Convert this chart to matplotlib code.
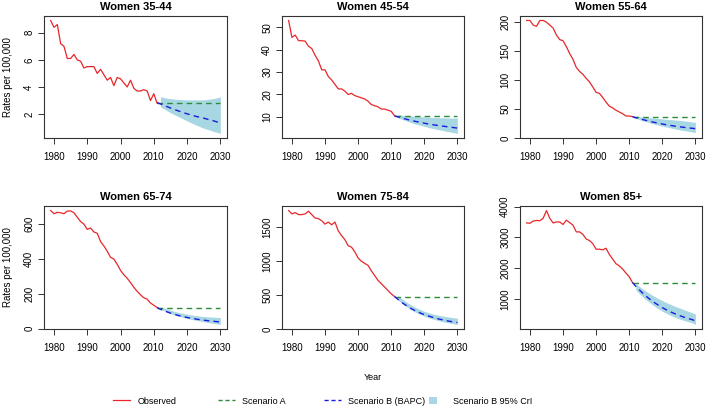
import matplotlib
matplotlib.use("Agg")
import matplotlib.pyplot as plt
from matplotlib.lines import Line2D
from matplotlib.patches import Patch
import numpy as np

plt.rcParams['font.family'] = ['Liberation Sans', 'DejaVu Sans']

obs_years = list(range(1979, 2012))
proj_years = list(range(2011, 2031))
ci_years = list(range(2012, 2031))

titles = ["Women 35-44", "Women 45-54", "Women 55-64",
          "Women 65-74", "Women 75-84", "Women 85+"]

obs_35 = [8.9, 8.4, 8.6, 7.2, 7.0, 6.1, 6.1, 6.4, 6.0, 5.9, 5.4, 5.5, 5.5, 5.5, 5.0, 5.3, 4.9,
          4.5, 4.7, 4.1, 4.7, 4.6, 4.3, 4.0, 4.5, 3.9, 3.7, 3.7, 3.8, 3.7, 3.0, 3.5, 2.8]
obs_45 = [53, 45.5, 46.5, 44, 44, 43.8, 41.5, 40.5, 37.5, 35, 31, 31, 28, 26.5, 24.5, 22.5, 22.5,
          21.5, 20, 20.5, 19.5, 19, 18.5, 18, 17, 15.5, 15, 14.5, 13.5, 13.5, 13, 12.5, 10.5]
obs_55 = [203, 203, 195, 193, 203, 203, 200, 195, 190, 178, 170, 168, 158, 146, 136, 122, 115,
          110, 103, 97, 88, 79, 77, 70, 62, 55, 52, 48, 45, 42, 38, 38, 37]
obs_65 = [678, 660, 668, 665, 660, 675, 676, 665, 640, 615, 600, 570, 578, 555, 548, 500, 475,
          445, 410, 400, 370, 335, 310, 290, 265, 238, 215, 195, 178, 170, 148, 135, 122]
obs_75 = [1750, 1700, 1720, 1690, 1690, 1700, 1740, 1690, 1640, 1630, 1600, 1550, 1580, 1540,
          1580, 1450, 1380, 1320, 1230, 1210, 1140, 1050, 1000, 970, 940, 860, 790, 720, 670,
          620, 570, 520, 480]
obs_85 = [3470, 3460, 3530, 3550, 3540, 3620, 3870, 3620, 3470, 3500, 3500, 3420, 3560, 3480,
          3400, 3180, 3180, 3100, 2950, 2900, 2800, 2620, 2620, 2600, 2650, 2450, 2300, 2150,
          2080, 1980, 1850, 1730, 1540]

scenA = [2.85, 10.5, 37, 122, 480, 1540]

bapc_35 = [2.85, 2.75, 2.65, 2.55, 2.45, 2.35, 2.27, 2.18, 2.10, 2.02, 1.95, 1.88, 1.81, 1.76,
           1.70, 1.63, 1.56, 1.50, 1.42, 1.35]
bapc_45 = [10.5, 10.0, 9.6, 9.2, 8.8, 8.4, 8.1, 7.8, 7.5, 7.2, 6.9, 6.7, 6.4, 6.2, 6.0, 5.8,
           5.6, 5.4, 5.2, 5.0]
bapc_55 = [37, 35, 33.5, 32, 30.5, 29, 27.7, 26.5, 25.3, 24.2, 23.1, 22.1, 21.2, 20.3, 19.5,
           18.8, 18.1, 17.4, 16.8, 16.2]
bapc_65 = [122, 112, 104, 97, 90, 84, 78.5, 73.5, 69, 65, 61, 58, 55, 52, 49.5, 47, 45, 43,
           41, 39]
bapc_75 = [480, 440, 400, 365, 333, 303, 277, 253, 232, 213, 196, 180, 166, 153, 141, 130,
           120, 111, 103, 95]
bapc_85 = [1540, 1420, 1310, 1205, 1110, 1020, 940, 865, 795, 730, 672, 618, 568, 522, 480,
           441, 405, 372, 342, 300]

lo_35 = [2.55, 2.4, 2.25, 2.1, 1.98, 1.86, 1.74, 1.62, 1.5, 1.38, 1.27, 1.16, 1.06, 0.96, 0.88,
         0.8, 0.72, 0.65, 0.57]
hi_35 = [3.3, 3.22, 3.17, 3.14, 3.11, 3.09, 3.07, 3.06, 3.05, 3.05, 3.05, 3.05, 3.05, 3.06,
         3.08, 3.11, 3.15, 3.2, 3.28]
lo_45 = [9.6, 9.0, 8.5, 8.0, 7.5, 7.0, 6.6, 6.2, 5.8, 5.4, 5.0, 4.7, 4.4, 4.1, 3.8, 3.5, 3.2,
         2.9, 2.6]
hi_45 = [11.0, 10.8, 10.6, 10.5, 10.4, 10.3, 10.2, 10.1, 10.0, 9.9, 9.8, 9.7, 9.7, 9.6, 9.6,
         9.5, 9.5, 9.5, 9.5]
lo_55 = [34, 32, 30, 28.5, 26.5, 25, 23.5, 22, 20.5, 19.2, 18, 16.8, 15.6, 14.5, 13.4, 12.4,
         11.4, 10.4, 9.5]
hi_55 = [38, 37, 36, 35.5, 35, 34.5, 34, 33.5, 33, 32.5, 32, 31.5, 31, 30.5, 30, 29.2, 28.5,
         27.8, 27]
lo_65 = [112, 103, 95, 88, 81, 75, 69.5, 64.5, 60, 55.5, 51.5, 47.5, 44, 40.5, 37, 34, 31,
         28, 25]
hi_65 = [127, 120, 113, 107, 101, 96, 91.5, 87.5, 84, 80.5, 77.5, 75, 72.5, 70.5, 69, 67.5,
         66.5, 65.5, 65]
lo_75 = [430, 388, 350, 316, 285, 257, 232, 210, 190, 172, 156, 141, 128, 116, 105, 95, 85,
         76, 68]
hi_75 = [490, 453, 418, 385, 355, 328, 303, 281, 262, 245, 230, 217, 206, 196, 187, 179, 172,
         165, 160]
lo_85 = [1300, 1190, 1090, 995, 905, 825, 750, 680, 615, 557, 503, 455, 410, 370, 333, 300,
         268, 240, 185]
hi_85 = [1500, 1420, 1340, 1265, 1195, 1130, 1070, 1010, 955, 905, 855, 810, 765, 725, 685,
         645, 605, 565, 520]

obs_all = [obs_35, obs_45, obs_55, obs_65, obs_75, obs_85]
bapc_all = [bapc_35, bapc_45, bapc_55, bapc_65, bapc_75, bapc_85]
lo_all = [lo_35, lo_45, lo_55, lo_65, lo_75, lo_85]
hi_all = [hi_35, hi_45, hi_55, hi_65, hi_75, hi_85]
yticks_all = [[2, 4, 6, 8], [10, 20, 30, 40, 50], [0, 50, 100, 150, 200],
              [0, 200, 400, 600], [0, 500, 1000, 1500], [1000, 2000, 3000, 4000]]
xticks = [1980, 1990, 2000, 2010, 2020, 2030]
legend_labels = ["Observed", "Scenario A", "Scenario B (BAPC)", "Scenario B 95% CrI"]

RED = "#e8262a"
GREEN = "#2e8b3a"
BLUE = "#1a1adf"
FILL = "#a8d7e4"

W, H = 707, 408
fig = plt.figure(figsize=(W / 100, H / 100), dpi=100)

cols = [(44, 227), (282, 464), (520, 702)]
rows = [(16, 138), (206, 329)]

for i in range(6):
    r, c = divmod(i, 3)
    x0, x1 = cols[c]
    yt, yb = rows[r]
    ax = fig.add_axes([x0 / W, 1 - yb / H, (x1 - x0) / W, (yb - yt) / H])
    ax.fill_between(ci_years, lo_all[i], hi_all[i], color=FILL, lw=0)
    ax.plot(obs_years, obs_all[i], color=RED, lw=0.9)
    ax.plot(proj_years, [scenA[i]] * len(proj_years), color=GREEN, lw=1.0,
            dashes=(4, 3))
    ax.plot(proj_years, bapc_all[i], color=BLUE, lw=1.0, dashes=(4, 3))
    ax.set_xlim(1977, 2032)
    allv = obs_all[i] + lo_all[i] + hi_all[i]
    lo, hi = min(allv), max(allv)
    pad = 0.04 * (hi - lo)
    ax.set_ylim(lo - pad, hi + pad)
    ax.set_xticks(xticks)
    ax.set_yticks(yticks_all[i])
    ax.tick_params(axis='both', labelsize=7, length=4, width=0.7, color='#333333',
                   direction='out')
    ax.tick_params(axis='x', pad=6)
    ax.tick_params(axis='y', pad=3)
    for lab in ax.get_yticklabels():
        lab.set_rotation(90)
        lab.set_va('center')
    for sp in ax.spines.values():
        sp.set_color('#333333')
        sp.set_linewidth(0.8)
    ax.set_title(titles[i], fontsize=8, fontweight='bold', pad=4)
    if c == 0:
        ax.set_ylabel("Rates per 100,000", fontsize=7, labelpad=8)

fig.text(373 / W, 1 - 378 / H, "Year", fontsize=6.5, ha='center', va='center')

handles = [Line2D([], [], color=RED, lw=0.9),
           Line2D([], [], color=GREEN, lw=1.0, dashes=(3, 2)),
           Line2D([], [], color=BLUE, lw=1.0, dashes=(3, 2)),
           Patch(facecolor=FILL, edgecolor='none')]
starts = [113, 218, 324, 429]
leg_y = 1 - 401 / H
for k in range(4):
    if k < 3:
        kw = dict(handlelength=1.85, handletextpad=0.85)
    else:
        kw = dict(handlelength=0.9, handleheight=0.75, handletextpad=1.8)
    fig.legend([handles[k]], [legend_labels[k]], loc='center left',
               bbox_to_anchor=(starts[k] / W, leg_y), frameon=False, fontsize=6.5,
               borderpad=0, borderaxespad=0, **kw)

fig.savefig("out.png", dpi=100)
